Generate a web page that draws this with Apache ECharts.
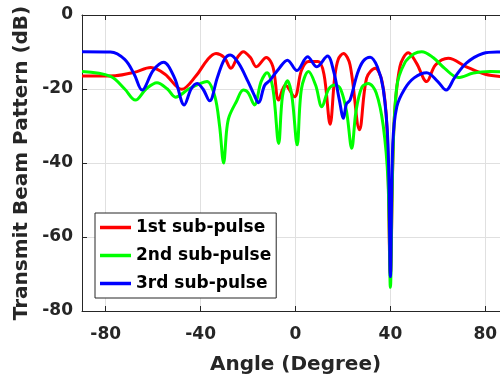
<!DOCTYPE html>
<html>
<head>
<meta charset="utf-8">
<script src="https://cdn.jsdelivr.net/npm/echarts@6/dist/echarts.min.js"></script>
<style>
  html, body { margin: 0; padding: 0; background: #fff; }
  #main { width: 500px; height: 381px; }
</style>
</head>
<body>
<div id="main"></div>
<script>
// angle (degree), beam pattern (dB)
var subPulse1 = [
  [-90, -16.5], [-76, -16.4], [-68, -15.5], [-61, -14.2], [-55, -16], [-48, -20.1],
  [-42, -16.5], [-37, -12], [-33.5, -10.4], [-30, -11.5], [-27.2, -14.4], [-24.5, -11.5],
  [-22, -9.9], [-19, -11.5], [-16.5, -14], [-12.3, -11.5], [-9.5, -14], [-7.1, -23],
  [-4.3, -18.9], [-0.4, -22.1], [2.5, -15], [5.5, -12.6], [9.5, -12.6], [12, -16],
  [14.6, -29.5], [16.5, -17], [18, -12], [20.2, -10.4], [23, -13.5], [27, -31],
  [30, -17], [33.6, -14.4], [36.5, -18], [38.5, -30], [40, -70], [41.5, -30],
  [44, -14], [47.6, -10.2], [51, -13], [55.3, -18], [59, -13.5], [64.4, -11.7],
  [72, -14], [80, -16], [90, -16.8]
];
var subPulse2 = [
  [-90, -15.3], [-78, -16.6], [-72, -20], [-67.5, -23], [-63, -20], [-58.4, -18.3],
  [-54, -20], [-50.6, -22.2], [-45, -20], [-40, -18.5], [-37.3, -18], [-34, -22],
  [-32, -30], [-30.3, -40], [-29, -31], [-28, -27.5], [-25, -23.5], [-22, -20.3],
  [-20, -21], [-17.3, -24.3], [-14.5, -18], [-12, -15.6], [-9.5, -20], [-7.1, -34.7],
  [-5.5, -22], [-3.4, -17.8], [-1.5, -22], [0.7, -35.1], [2.5, -20], [5.5, -15.3],
  [8.5, -19], [11.1, -24.8], [14, -20], [16.7, -18.9], [19, -20], [21.5, -26],
  [23.7, -36], [25.5, -26], [28, -19.5], [30.7, -18.5], [34, -21], [37, -30],
  [39, -45], [40, -73.6], [41, -40], [42.7, -19.4], [46, -13], [50, -10.5],
  [53.2, -9.9], [58, -11.5], [63, -14.5], [68.6, -16.9], [75, -15.7], [82, -15.3],
  [90, -15.4]
];
var subPulse3 = [
  [-90, -9.9], [-78, -10], [-72, -12], [-68, -16], [-64.7, -20.3], [-60, -15],
  [-55.6, -12.8], [-51, -17], [-46.9, -24.3], [-44, -20], [-41.5, -18.5], [-39, -20],
  [-36.2, -23.2], [-33, -17], [-30, -12], [-27.5, -10.8], [-24, -13], [-20, -18],
  [-17.5, -21.5], [-15.6, -23.7], [-13, -19], [-10.7, -17.6], [-7, -14.5], [-3.4, -12.2],
  [0.6, -15], [5.1, -11.3], [9, -14], [13.5, -11.1], [16, -15], [18.5, -23],
  [20.2, -27.9], [21.5, -24], [23, -23], [26, -16], [28.5, -12.5], [31.5, -11.4],
  [34.5, -14], [37, -20], [39, -35], [40, -70.7], [41, -35], [42.7, -24.8],
  [46, -20], [50, -17], [55.3, -15.6], [60, -18], [63.5, -20.3], [67, -17],
  [72, -13], [79, -10.4], [85, -10], [90, -10]
];
var seriesNames = ['1st sub-pulse', '2nd sub-pulse', '3rd sub-pulse'];
var seriesColors = ['#ff0000', '#00ff00', '#0000ff'];
var xTicks = [-80, -40, 0, 40, 80];

var font = 'DejaVu Sans';
var textColor = '#262626';

var myChart = echarts.init(document.getElementById('main'));

function makeSeries(name, data, color) {
  return {
    name: name,
    type: 'line',
    data: data,
    smooth: 0.35,
    symbol: 'none',
    lineStyle: { width: 3, color: color },
    itemStyle: { color: color }
  };
}

var option = {
  backgroundColor: '#fff',
  animation: false,
  grid: {
    left: 82,
    right: -9,
    top: 15,
    bottom: 70,
    outerBoundsMode: 'none'
  },
  legend: {
    orient: 'vertical',
    left: 95,
    top: 213,
    padding: [6, 5, 6, 5],
    itemWidth: 31,
    itemHeight: 17,
    itemGap: 11,
    icon: 'path://M0,0 L31,0 L31,3.5 L0,3.5 Z',
    borderColor: textColor,
    borderWidth: 1,
    backgroundColor: '#fff',
    data: seriesNames,
    textStyle: {
      fontFamily: font,
      fontWeight: 'bold',
      fontSize: 17,
      color: '#000'
    }
  },
  xAxis: [
    {
      type: 'value',
      min: -90,
      max: 90,
      name: 'Angle (Degree)',
      nameLocation: 'middle',
      nameGap: 44,
      nameTextStyle: { fontFamily: font, fontWeight: 'bold', fontSize: 20, color: textColor },
      axisLine: { onZero: false, lineStyle: { color: textColor, width: 1 } },
      axisTick: { inside: true, length: 5, customValues: xTicks, lineStyle: { color: textColor } },
      axisLabel: {
        customValues: xTicks,
        margin: 15,
        fontFamily: font, fontWeight: 'bold', fontSize: 17, color: textColor
      },
      splitLine: { show: true, lineStyle: { color: '#e0e0e0', width: 1 } }
    },
    {
      type: 'value',
      position: 'top',
      min: -90,
      max: 90,
      axisLine: { onZero: false, lineStyle: { color: textColor, width: 1 } },
      axisTick: { inside: true, length: 5, customValues: xTicks, lineStyle: { color: textColor } },
      axisLabel: { show: false },
      splitLine: { show: false }
    }
  ],
  yAxis: {
    type: 'value',
    min: -80,
    max: 0,
    interval: 20,
    name: 'Transmit Beam Pattern (dB)',
    nameLocation: 'middle',
    nameGap: 48,
    nameTextStyle: { fontFamily: font, fontWeight: 'bold', fontSize: 20, color: textColor },
    axisLine: { show: true, onZero: false, lineStyle: { color: textColor, width: 1 } },
    axisTick: { show: true, inside: true, length: 5, lineStyle: { color: textColor } },
    axisLabel: { margin: 9, fontFamily: font, fontWeight: 'bold', fontSize: 17, color: textColor },
    splitLine: { show: true, lineStyle: { color: '#e0e0e0', width: 1 } }
  },
  series: [
    makeSeries(seriesNames[0], subPulse1, seriesColors[0]),
    makeSeries(seriesNames[1], subPulse2, seriesColors[1]),
    makeSeries(seriesNames[2], subPulse3, seriesColors[2])
  ]
};

myChart.setOption(option);
</script>
</body>
</html>
